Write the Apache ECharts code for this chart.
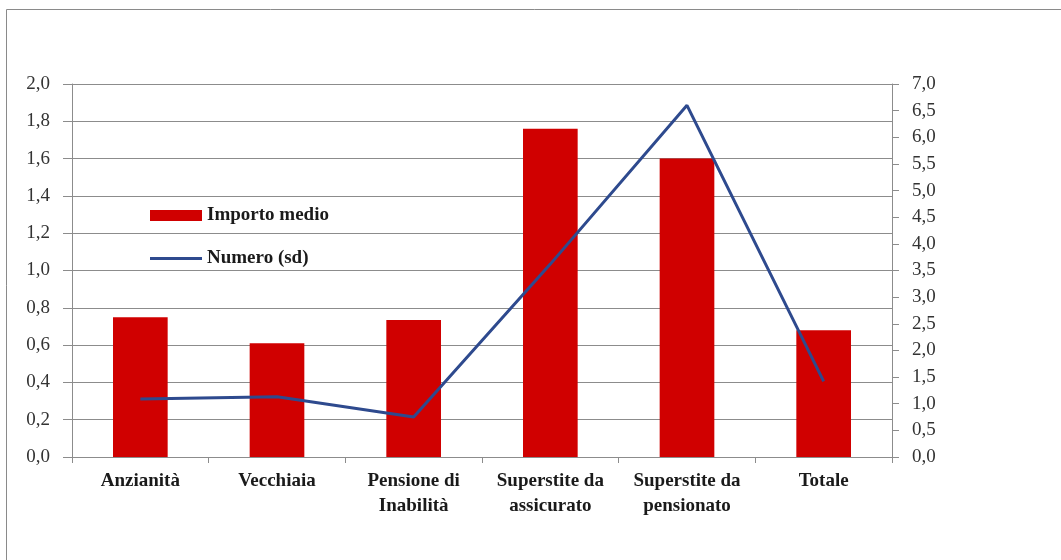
<!DOCTYPE html>
<html>
<head>
<meta charset="utf-8">
<script src="https://cdn.jsdelivr.net/npm/echarts@6/dist/echarts.min.js"></script>
<style>
  html, body { margin: 0; padding: 0; background: #fff; }
  #chart { width: 1061px; height: 560px; }
</style>
</head>
<body>
<div id="chart"></div>
<script>
var categories = ['Anzianità', 'Vecchiaia', 'Pensione di\nInabilità', 'Superstite da\nassicurato', 'Superstite da\npensionato', 'Totale'];
var importoMedio = [0.75, 0.61, 0.735, 1.76, 1.60, 0.68];
var numeroSd = [1.09, 1.13, 0.75, 3.62, 6.6, 1.42];

var serif = '"Liberation Serif", "Times New Roman", serif';
var gridColor = '#8c8c8c';

function comma(v) {
    return v.toFixed(1).replace('.', ',');
}

var chart = echarts.init(document.getElementById('chart'));
var option = {
    backgroundColor: '#fff',
    animation: false,
    graphic: [{
        type: 'rect',
        shape: {x: 6.5, y: 9.5, width: 1100, height: 600},
        style: {fill: 'none', stroke: '#8a8a8a', lineWidth: 1},
        silent: true,
        z: -1
    }],
    legend: {
        orient: 'vertical',
        left: 150,
        top: 206,
        padding: 0,
        itemGap: 24,
        itemWidth: 52,
        itemHeight: 11,
        textStyle: {fontFamily: serif, fontWeight: 'bold', fontSize: 19, color: '#1a1a1a'},
        data: [
            {name: 'Importo medio', icon: 'rect'},
            {name: 'Numero (sd)', icon: 'path://M0,0H52V3H0Z'}
        ]
    },
    grid: {left: 72, right: 169, top: 84, bottom: 103},
    xAxis: {
        type: 'category',
        data: categories,
        axisLine: {lineStyle: {color: gridColor}},
        axisTick: {show: true, length: 6, lineStyle: {color: gridColor}},
        axisLabel: {
            interval: 0,
            margin: 12,
            fontFamily: serif,
            fontWeight: 'bold',
            fontSize: 19,
            lineHeight: 25,
            color: '#1a1a1a'
        }
    },
    yAxis: [
        {
            type: 'value',
            min: 0,
            max: 2,
            interval: 0.2,
            axisLine: {show: true, lineStyle: {color: gridColor}},
            axisTick: {show: true, length: 9, lineStyle: {color: gridColor}},
            splitLine: {lineStyle: {color: gridColor}},
            axisLabel: {
                margin: 22,
                fontFamily: serif,
                fontSize: 19,
                color: '#333',
                formatter: comma
            }
        },
        {
            type: 'value',
            min: 0,
            max: 7,
            interval: 0.5,
            position: 'right',
            axisLine: {show: true, lineStyle: {color: gridColor}},
            axisTick: {show: true, length: 7, lineStyle: {color: gridColor}},
            splitLine: {show: false},
            axisLabel: {
                margin: 20,
                fontFamily: serif,
                fontSize: 19,
                color: '#333',
                formatter: comma
            }
        }
    ],
    series: [
        {
            name: 'Importo medio',
            type: 'bar',
            barWidth: '40%',
            itemStyle: {color: '#d00000'},
            data: importoMedio
        },
        {
            name: 'Numero (sd)',
            type: 'line',
            yAxisIndex: 1,
            symbol: 'none',
            lineStyle: {color: '#2e4a8e', width: 3},
            itemStyle: {color: '#2e4a8e'},
            data: numeroSd
        }
    ]
};
chart.setOption(option);
</script>
</body>
</html>
